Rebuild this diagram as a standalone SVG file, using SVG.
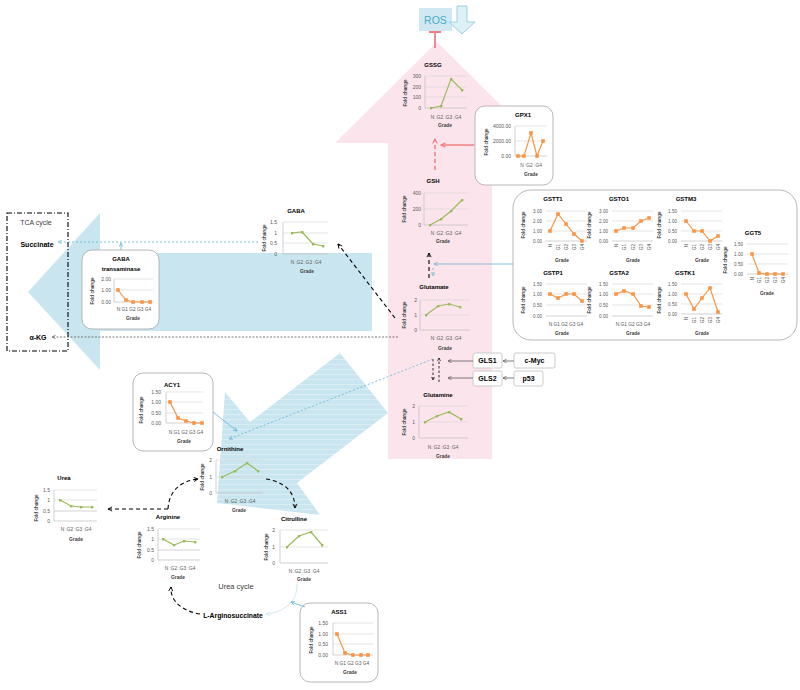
<svg xmlns="http://www.w3.org/2000/svg" width="800" height="690" viewBox="0 0 800 690">
<style>
text{font-family:"Liberation Sans",Arial,sans-serif}
.t{font-size:6px;font-weight:bold;fill:#000;text-anchor:middle}
.y{font-size:5px;fill:#595959;text-anchor:end}
.ys{font-size:4.6px;fill:#595959;text-anchor:end}
.x{font-size:4.8px;fill:#595959;text-anchor:middle}
.xr{font-size:4.6px;fill:#595959;text-anchor:end}
.fc{font-size:4.6px;font-weight:bold;fill:#404040;text-anchor:middle}
.gr{font-size:4.8px;font-weight:bold;fill:#404040;text-anchor:middle}
.grid{stroke:#d9d9d9;stroke-width:0.7}
.axis{stroke:#bfbfbf;stroke-width:0.7}
.g{stroke:#9bbb59;stroke-width:1.2;fill:none;marker-start:url(#dot);marker-mid:url(#dot);marker-end:url(#dot)}
.o{stroke:#f79646;stroke-width:1.2;fill:none;marker-start:url(#sq);marker-mid:url(#sq);marker-end:url(#sq)}
.box{fill:#fff;stroke:#a6a6a6;stroke-width:0.8}
.sbox{fill:#fff;stroke:#bfbfbf;stroke-width:0.8}
.lab{font-size:7px;font-weight:bold;fill:#000;text-anchor:middle}
.bk{stroke:#000;stroke-width:1.1;fill:none;stroke-dasharray:4 3;marker-end:url(#ak)}
.bl{stroke:#5fb4d4;stroke-width:0.8;fill:none;stroke-dasharray:2 2;marker-end:url(#ab)}
.bls{stroke:#5fb4d4;stroke-width:0.8;fill:none;marker-end:url(#ab)}
.gy{stroke:#595959;stroke-width:0.8;fill:none;marker-end:url(#ag)}
</style>
<defs>
<marker id="ak" viewBox="0 0 8 8" refX="7" refY="4" markerWidth="5" markerHeight="5" orient="auto"><path d="M1,1 L7,4 L1,7" fill="none" stroke="#000" stroke-width="1.3"/></marker>
<marker id="ab" viewBox="0 0 8 8" refX="7" refY="4" markerWidth="6" markerHeight="6" orient="auto"><path d="M1,1 L7,4 L1,7" fill="none" stroke="#5fb4d4" stroke-width="1.2"/></marker>
<marker id="ag" viewBox="0 0 8 8" refX="7" refY="4" markerWidth="6" markerHeight="6" orient="auto"><path d="M1,1 L7,4 L1,7" fill="none" stroke="#595959" stroke-width="1.2"/></marker>
<marker id="ar" viewBox="0 0 8 8" refX="7" refY="4" markerWidth="4" markerHeight="4" orient="auto"><path d="M1,1 L7,4 L1,7" fill="none" stroke="#f08080" stroke-width="1.5"/></marker>
<marker id="alb" viewBox="0 0 8 8" refX="7" refY="4" markerWidth="6" markerHeight="6" orient="auto"><path d="M1,1 L7,4 L1,7" fill="none" stroke="#c6e2ec" stroke-width="1.2"/></marker>
<marker id="dot" viewBox="0 0 4 4" refX="2" refY="2" markerWidth="3" markerHeight="3" markerUnits="userSpaceOnUse"><circle cx="2" cy="2" r="2" fill="#9bbb59"/></marker>
<marker id="sq" viewBox="0 0 4 4" refX="2" refY="2" markerWidth="3.6" markerHeight="3.6" markerUnits="userSpaceOnUse"><rect width="4" height="4" fill="#f79646"/></marker>
<pattern id="hatch" width="8" height="5" patternUnits="userSpaceOnUse"><rect width="8" height="5" fill="#c9e5ef"/><rect y="4" width="8" height="0.8" fill="#dfeff5"/></pattern>
</defs>
<rect width="800" height="690" fill="#fff"/>

<g id="backgrounds">
<path d="M437,42 L539,143 L492,143 L492,459 L388,459 L388,143 L335,143 Z" fill="#fce4ec"/>
<path d="M28,292 L100,213 L100,253 L372,253 L372,331 L100,331 L100,370 Z" fill="#c9e5ef"/>
<path d="M340,353 L388,413 L297,483 L320,515 L217,503 L225,392 L250,422 Z" fill="url(#hatch)"/>
</g>

<g id="ros">
<rect x="419" y="8" width="33" height="23" fill="#cfe8f1"/>
<text x="435.5" y="24" style="font-size:10.5px;fill:#4bacc6;text-anchor:middle">ROS</text>
<path d="M457,6 L467,6 L467,22 L475,22 L462,34 L449,22 L457,22 Z" fill="#dcf0f6" stroke="#9ccfe0" stroke-width="1"/>
</g>

<g id="tca">
<rect x="7" y="213" width="61" height="138" fill="none" stroke="#000" stroke-width="1.1" stroke-dasharray="5 2 1 2"/>
<text x="36" y="225" style="font-size:7px;fill:#404040;text-anchor:middle">TCA cycle</text>
<text x="37" y="247" style="font-size:7px;font-weight:bold;text-anchor:middle">Succinate</text>
<text x="38" y="340" style="font-size:7px;font-weight:bold;text-anchor:middle">α-KG</text>
</g>

<g id="gssg">
<text class="t" x="433" y="67">GSSG</text>
<line class="grid" x1="425" y1="76" x2="467" y2="76"/><line class="grid" x1="425" y1="87" x2="467" y2="87"/><line class="grid" x1="425" y1="97" x2="467" y2="97"/>
<line class="axis" x1="425" y1="108" x2="467" y2="108"/><line class="axis" x1="425" y1="76" x2="425" y2="108"/>
<text class="y" x="421" y="78">300</text><text class="y" x="421" y="89">200</text><text class="y" x="421" y="99">100</text><text class="y" x="421" y="110">0</text>
<polyline class="g" points="431,108 441,106 451,79 462,90"/>
<text class="x" x="446" y="119">N :G2 :G3 :G4</text>
<text class="gr" x="445" y="127">Grade</text>
<text class="fc" transform="translate(407,93) rotate(-90)">Fold change</text>
</g>

<g id="gpx1">
<rect class="box" x="475" y="106" width="78" height="79" rx="10"/>
<text class="t" x="523" y="117">GPX1</text>
<line class="grid" x1="515" y1="126" x2="547" y2="126"/><line class="grid" x1="515" y1="141" x2="547" y2="141"/>
<line class="axis" x1="515" y1="156" x2="547" y2="156"/><line class="axis" x1="515" y1="126" x2="515" y2="156"/>
<text class="y" x="511" y="128">4000.00</text><text class="y" x="511" y="143">2000.00</text><text class="y" x="511" y="158">0.00</text>
<polyline class="o" points="518,156 524,156 531,133 537,156 543,141"/>
<text class="x" x="531" y="167">N  :G2  :G4</text>
<text class="gr" x="531" y="176">Grade</text>
<text class="fc" transform="translate(488,142) rotate(-90)">Fold change</text>
</g>

<g id="gsh">
<text class="t" x="433" y="183">GSH</text>
<line class="grid" x1="424" y1="193" x2="468" y2="193"/><line class="grid" x1="424" y1="209" x2="468" y2="209"/>
<line class="axis" x1="424" y1="225" x2="468" y2="225"/><line class="axis" x1="424" y1="193" x2="424" y2="225"/>
<text class="y" x="421" y="195">400</text><text class="y" x="421" y="211">200</text><text class="y" x="421" y="227">0</text>
<polyline class="g" points="430,225 441,219 451,211 462,200"/>
<text class="x" x="446" y="235">N :G2 :G3 :G4</text>
<text class="gr" x="443" y="243">Grade</text>
<text class="fc" transform="translate(406,209) rotate(-90)">Fold change</text>
</g>

<g id="glutamate">
<text class="t" x="434" y="289">Glutamate</text>
<line class="grid" x1="420" y1="300" x2="470" y2="300"/><line class="grid" x1="420" y1="315" x2="470" y2="315"/>
<line class="axis" x1="420" y1="330" x2="470" y2="330"/><line class="axis" x1="420" y1="300" x2="420" y2="330"/>
<text class="y" x="417" y="302">2</text><text class="y" x="417" y="317">1</text><text class="y" x="417" y="332">0</text>
<polyline class="g" points="426,315 438,306 449,304 460,307"/>
<text class="x" x="446" y="340">N :G2 :G3 :G4</text>
<text class="gr" x="445" y="350">Grade</text>
<text class="fc" transform="translate(406,315) rotate(-90)">Fold change</text>
</g>

<g id="glutamine">
<text class="t" x="438" y="397">Glutamine</text>
<line class="grid" x1="419" y1="406" x2="468" y2="406"/><line class="grid" x1="419" y1="422" x2="468" y2="422"/>
<line class="axis" x1="419" y1="438" x2="468" y2="438"/><line class="axis" x1="419" y1="406" x2="419" y2="438"/>
<text class="y" x="415" y="408">2</text><text class="y" x="415" y="424">1</text><text class="y" x="415" y="440">0</text>
<polyline class="g" points="425,422 437,416 449,412 461,419"/>
<text class="x" x="443" y="449">N :G2 :G3 :G4</text>
<text class="gr" x="443" y="458">Grade</text>
<text class="fc" transform="translate(406,422) rotate(-90)">Fold change</text>
</g>

<g id="gls1"><rect class="sbox" x="473" y="353" width="29" height="15" rx="2"/><text class="lab" x="487.5" y="363">GLS1</text></g>
<g id="gls2"><rect class="sbox" x="473" y="371" width="29" height="15" rx="2"/><text class="lab" x="487.5" y="381">GLS2</text></g>
<g id="cmyc"><rect class="sbox" x="514" y="353" width="41" height="15" rx="2"/><text class="lab" x="534.5" y="363">c-Myc</text></g>
<g id="p53"><rect class="sbox" x="514" y="371" width="29" height="15" rx="2"/><text class="lab" x="528.5" y="381">p53</text></g>

<g id="gaba">
<text class="t" x="296" y="213">GABA</text>
<line class="grid" x1="283" y1="222" x2="328" y2="222"/><line class="grid" x1="283" y1="233" x2="328" y2="233"/><line class="grid" x1="283" y1="243" x2="328" y2="243"/>
<line class="axis" x1="283" y1="254" x2="328" y2="254"/><line class="axis" x1="283" y1="222" x2="283" y2="254"/>
<text class="y" x="277" y="224">1.5</text><text class="y" x="277" y="235">1</text><text class="y" x="277" y="245">0.5</text><text class="y" x="277" y="256">0</text>
<polyline class="g" points="292,233 302,232 313,244 323,246"/>
<text class="x" x="306" y="264">N :G2 :G3 :G4</text>
<text class="gr" x="307" y="273">Grade</text>
<text class="fc" transform="translate(266,238) rotate(-90)">Fold change</text>
</g>

<g id="gaba-transaminase">
<rect class="box" x="82" y="250" width="77" height="79" rx="10"/>
<text class="t" x="121" y="261">GABA</text>
<text class="t" x="121" y="270.5">transaminase</text>
<line class="grid" x1="114" y1="279" x2="153" y2="279"/><line class="grid" x1="114" y1="290" x2="153" y2="290"/>
<line class="axis" x1="114" y1="302" x2="153" y2="302"/><line class="axis" x1="114" y1="279" x2="114" y2="302"/>
<text class="y" x="111" y="281">2.00</text><text class="y" x="111" y="292">1.00</text><text class="y" x="111" y="304">0.00</text>
<polyline class="o" points="118,290 126,300 133,302 142,302 150,302"/>
<text class="x" x="134" y="311">N  G1 G2 G3 G4</text>
<text class="gr" x="133" y="320">Grade</text>
<text class="fc" transform="translate(94,291) rotate(-90)">Fold change</text>
</g>

<g id="acy1">
<rect class="box" x="133" y="373" width="80" height="78" rx="10"/>
<text class="t" x="172" y="387">ACY1</text>
<line class="grid" x1="166" y1="392" x2="203" y2="392"/><line class="grid" x1="166" y1="402" x2="203" y2="402"/><line class="grid" x1="166" y1="413" x2="203" y2="413"/>
<line class="axis" x1="166" y1="423" x2="203" y2="423"/><line class="axis" x1="166" y1="392" x2="166" y2="423"/>
<text class="y" x="161" y="394">1.50</text><text class="y" x="161" y="404">1.00</text><text class="y" x="161" y="415">0.50</text><text class="y" x="161" y="425">0.00</text>
<polyline class="o" points="170,402 178,418 186,421 194,423 202,423"/>
<text class="x" x="186" y="434">N  G1 G2 G3 G4</text>
<text class="gr" x="184" y="443">Grade</text>
<text class="fc" transform="translate(143,410) rotate(-90)">Fold change</text>
</g>

<g id="ornithine">
<text class="t" x="230" y="451">Ornithine</text>
<line class="grid" x1="216" y1="460" x2="263" y2="460"/><line class="grid" x1="216" y1="477" x2="263" y2="477"/>
<line class="axis" x1="216" y1="493" x2="263" y2="493"/><line class="axis" x1="216" y1="460" x2="216" y2="493"/>
<text class="y" x="212" y="462">2</text><text class="y" x="212" y="479">1</text><text class="y" x="212" y="495">0</text>
<polyline class="g" points="222,477 235,471 247,463 258,471"/>
<text class="x" x="240" y="503">N :G2 :G3 :G4</text>
<text class="gr" x="239" y="512">Grade</text>
<text class="fc" transform="translate(204,477) rotate(-90)">Fold change</text>
</g>

<g id="urea">
<text class="t" x="64" y="480">Urea</text>
<line class="grid" x1="54" y1="490" x2="97" y2="490"/><line class="grid" x1="54" y1="500" x2="97" y2="500"/><line class="axis" x1="54" y1="511" x2="97" y2="511"/>
<line class="axis" x1="54" y1="521" x2="97" y2="521"/><line class="axis" x1="54" y1="490" x2="54" y2="521"/>
<text class="y" x="50" y="492">1.5</text><text class="y" x="50" y="502">1</text><text class="y" x="50" y="513">0.5</text><text class="y" x="50" y="523">0</text>
<polyline class="g" points="60,500 71,506 81,507 92,507"/>
<text class="x" x="76" y="531">N :G2 :G3 :G4</text>
<text class="gr" x="76" y="541">Grade</text>
<text class="fc" transform="translate(38,508) rotate(-90)">Fold change</text>
</g>

<g id="arginine">
<text class="t" x="168" y="519">Arginine</text>
<line class="grid" x1="158" y1="529" x2="200" y2="529"/><line class="grid" x1="158" y1="539" x2="200" y2="539"/><line class="axis" x1="158" y1="550" x2="200" y2="550"/>
<line class="axis" x1="158" y1="560" x2="200" y2="560"/><line class="axis" x1="158" y1="529" x2="158" y2="560"/>
<text class="y" x="154" y="531">1.5</text><text class="y" x="154" y="541">1</text><text class="y" x="154" y="552">0.5</text><text class="y" x="154" y="562">0</text>
<polyline class="g" points="163,539 174,545 184,541 195,542"/>
<text class="x" x="180" y="570">N :G2 :G3 :G4</text>
<text class="gr" x="178" y="579">Grade</text>
<text class="fc" transform="translate(141,545) rotate(-90)">Fold change</text>
</g>

<g id="citrulline">
<text class="t" x="294" y="521">Citrulline</text>
<line class="grid" x1="280" y1="530" x2="328" y2="530"/><line class="grid" x1="280" y1="547" x2="328" y2="547"/>
<line class="axis" x1="280" y1="563" x2="328" y2="563"/><line class="axis" x1="280" y1="530" x2="280" y2="563"/>
<text class="y" x="275" y="532">2</text><text class="y" x="275" y="549">1</text><text class="y" x="275" y="565">0</text>
<polyline class="g" points="287,547 299,536 311,532 322,545"/>
<text class="x" x="304" y="573">N :G2 :G3 :G4</text>
<text class="gr" x="304" y="581">Grade</text>
<text class="fc" transform="translate(268,547) rotate(-90)">Fold change</text>
</g>

<g id="urea-cycle">
<text x="236" y="589" style="font-size:7.5px;fill:#404040;text-anchor:middle">Urea cycle</text>
<text x="233" y="618" style="font-size:6.8px;font-weight:bold;text-anchor:middle">L-Arginosuccinate</text>
</g>

<g id="ass1">
<rect class="box" x="300" y="603" width="78" height="79" rx="10"/>
<text class="t" x="339" y="614">ASS1</text>
<line class="grid" x1="333" y1="623" x2="373" y2="623"/><line class="grid" x1="333" y1="634" x2="373" y2="634"/><line class="grid" x1="333" y1="644" x2="373" y2="644"/>
<line class="axis" x1="333" y1="655" x2="373" y2="655"/><line class="axis" x1="333" y1="623" x2="333" y2="655"/>
<text class="y" x="328" y="625">1.50</text><text class="y" x="328" y="636">1.00</text><text class="y" x="328" y="646">0.50</text><text class="y" x="328" y="657">0.00</text>
<polyline class="o" points="337,634 345,653 353,655 361,655 368,655"/>
<text class="x" x="352" y="665">N  G1 G2 G3 G4</text>
<text class="gr" x="350" y="674">Grade</text>
<text class="fc" transform="translate(313,640) rotate(-90)">Fold change</text>
</g>

<g id="gst">
<rect class="box" x="513" y="190" width="284" height="150" rx="18"/>
<g id="gstt1">
<text class="t" x="553" y="201">GSTT1</text>
<line class="grid" x1="546" y1="211" x2="587" y2="211"/><line class="grid" x1="546" y1="221" x2="587" y2="221"/><line class="grid" x1="546" y1="231" x2="587" y2="231"/>
<line class="axis" x1="546" y1="241" x2="587" y2="241"/>
<text class="ys" x="542" y="213">3.00</text><text class="ys" x="542" y="223">2.00</text><text class="ys" x="542" y="233">1.00</text><text class="ys" x="542" y="243">0.00</text>
<polyline class="o" points="550,231 558,214 566,224 574,234 582,241"/>
<text class="xr" transform="translate(552,244) rotate(-90)">N</text><text class="xr" transform="translate(560,244) rotate(-90)">G1</text><text class="xr" transform="translate(568,244) rotate(-90)">G2</text><text class="xr" transform="translate(576,244) rotate(-90)">G3</text><text class="xr" transform="translate(584,244) rotate(-90)">G4</text>
<text class="gr" x="562" y="262">Grade</text>
<text class="fc" transform="translate(525,225) rotate(-90)">Fold change</text>
</g>
<g id="gsto1">
<text class="t" x="619" y="201">GSTO1</text>
<line class="grid" x1="612" y1="211" x2="653" y2="211"/><line class="grid" x1="612" y1="221" x2="653" y2="221"/><line class="grid" x1="612" y1="231" x2="653" y2="231"/>
<line class="axis" x1="612" y1="241" x2="653" y2="241"/>
<text class="ys" x="608" y="213">3.00</text><text class="ys" x="608" y="223">2.00</text><text class="ys" x="608" y="233">1.00</text><text class="ys" x="608" y="243">0.00</text>
<polyline class="o" points="616,231 624,228 633,228 641,221 649,218"/>
<text class="xr" transform="translate(618,244) rotate(-90)">N</text><text class="xr" transform="translate(626,244) rotate(-90)">G1</text><text class="xr" transform="translate(635,244) rotate(-90)">G2</text><text class="xr" transform="translate(643,244) rotate(-90)">G3</text><text class="xr" transform="translate(651,244) rotate(-90)">G4</text>
<text class="gr" x="633" y="262">Grade</text>
<text class="fc" transform="translate(591,225) rotate(-90)">Fold change</text>
</g>
<g id="gstm3">
<text class="t" x="686" y="201">GSTM3</text>
<line class="grid" x1="681" y1="211" x2="722" y2="211"/><line class="grid" x1="681" y1="221" x2="722" y2="221"/><line class="grid" x1="681" y1="231" x2="722" y2="231"/>
<line class="axis" x1="681" y1="241" x2="722" y2="241"/>
<text class="ys" x="677" y="213">1.50</text><text class="ys" x="677" y="223">1.00</text><text class="ys" x="677" y="233">0.50</text><text class="ys" x="677" y="243">0.00</text>
<polyline class="o" points="686,221 694,231 702,231 710,241 718,236"/>
<text class="xr" transform="translate(688,244) rotate(-90)">N</text><text class="xr" transform="translate(696,244) rotate(-90)">G1</text><text class="xr" transform="translate(704,244) rotate(-90)">G2</text><text class="xr" transform="translate(712,244) rotate(-90)">G3</text><text class="xr" transform="translate(720,244) rotate(-90)">G4</text>
<text class="gr" x="702" y="262">Grade</text>
<text class="fc" transform="translate(661,225) rotate(-90)">Fold change</text>
</g>
<g id="ggt5">
<text class="t" x="753" y="235">GGT5</text>
<line class="grid" x1="747" y1="244" x2="788" y2="244"/><line class="grid" x1="747" y1="254" x2="788" y2="254"/><line class="grid" x1="747" y1="264" x2="788" y2="264"/>
<line class="axis" x1="747" y1="274" x2="788" y2="274"/>
<text class="ys" x="743" y="246">1.50</text><text class="ys" x="743" y="256">1.00</text><text class="ys" x="743" y="266">0.50</text><text class="ys" x="743" y="276">0.00</text>
<polyline class="o" points="752,254 759,273 767,274 775,274 783,274"/>
<text class="xr" transform="translate(754,277) rotate(-90)">N</text><text class="xr" transform="translate(761,277) rotate(-90)">G1</text><text class="xr" transform="translate(769,277) rotate(-90)">G2</text><text class="xr" transform="translate(777,277) rotate(-90)">G3</text><text class="xr" transform="translate(785,277) rotate(-90)">G4</text>
<text class="gr" x="767" y="295">Grade</text>
<text class="fc" transform="translate(727,260) rotate(-90)">Fold change</text>
</g>
<g id="gstp1">
<text class="t" x="553" y="275">GSTP1</text>
<line class="grid" x1="546" y1="284" x2="587" y2="284"/><line class="grid" x1="546" y1="294" x2="587" y2="294"/><line class="grid" x1="546" y1="305" x2="587" y2="305"/>
<line class="axis" x1="546" y1="316" x2="587" y2="316"/>
<text class="ys" x="542" y="286">1.50</text><text class="ys" x="542" y="296">1.00</text><text class="ys" x="542" y="307">0.50</text><text class="ys" x="542" y="318">0.00</text>
<polyline class="o" points="550,294 558,298 566,294 574,294 582,301"/>
<text class="x" x="566" y="326">N  G1 G2 G3 G4</text>
<text class="gr" x="562" y="335">Grade</text>
<text class="fc" transform="translate(525,300) rotate(-90)">Fold change</text>
</g>
<g id="gsta2">
<text class="t" x="619" y="275">GSTA2</text>
<line class="grid" x1="612" y1="284" x2="653" y2="284"/><line class="grid" x1="612" y1="294" x2="653" y2="294"/><line class="grid" x1="612" y1="305" x2="653" y2="305"/>
<line class="axis" x1="612" y1="316" x2="653" y2="316"/>
<text class="ys" x="608" y="286">1.50</text><text class="ys" x="608" y="296">1.00</text><text class="ys" x="608" y="307">0.50</text><text class="ys" x="608" y="318">0.00</text>
<polyline class="o" points="616,294 624,291 633,294 641,306 649,307"/>
<text class="x" x="633" y="326">N  G1 G2 G3 G4</text>
<text class="gr" x="633" y="335">Grade</text>
<text class="fc" transform="translate(591,300) rotate(-90)">Fold change</text>
</g>
<g id="gstk1">
<text class="t" x="685" y="275">GSTK1</text>
<line class="grid" x1="681" y1="284" x2="722" y2="284"/><line class="grid" x1="681" y1="294" x2="722" y2="294"/><line class="grid" x1="681" y1="304" x2="722" y2="304"/>
<line class="axis" x1="681" y1="314" x2="722" y2="314"/>
<text class="ys" x="677" y="286">1.50</text><text class="ys" x="677" y="296">1.00</text><text class="ys" x="677" y="306">0.50</text><text class="ys" x="677" y="316">0.00</text>
<polyline class="o" points="686,294 694,309 702,298 710,288 718,312"/>
<text class="xr" transform="translate(688,317) rotate(-90)">N</text><text class="xr" transform="translate(696,317) rotate(-90)">G1</text><text class="xr" transform="translate(704,317) rotate(-90)">G2</text><text class="xr" transform="translate(712,317) rotate(-90)">G3</text><text class="xr" transform="translate(720,317) rotate(-90)">G4</text>
<text class="gr" x="702" y="335">Grade</text>
<text class="fc" transform="translate(661,300) rotate(-90)">Fold change</text>
</g>
</g>

<g id="connectors">
<path d="M435,48 L435,32 M429,32 L441,32" stroke="#f08080" stroke-width="1.8" fill="none"/>
<path d="M435,170 L435,139" stroke="#f08080" stroke-width="1.5" stroke-dasharray="4 3" fill="none" marker-end="url(#ar)"/>
<path d="M474,145 L441,145" stroke="#f08080" stroke-width="1.5" fill="none" marker-end="url(#ar)"/>
<path class="bk" d="M429,278 L429,253"/>
<path d="M513,264 L434,264" class="bls"/>
<path d="M433,268 L433,276" class="bl"/>
<path class="bk" d="M395,318 L338,244"/>
<path class="bl" d="M258,242 L58,242"/>
<path class="bls" d="M121,250 L121,243"/>
<path d="M398,337 L52,337" stroke="#595959" stroke-width="0.8" stroke-dasharray="2 1.5" fill="none" marker-end="url(#ag)"/>
<path d="M433,359 L433,380" stroke="#000" stroke-width="0.8" stroke-dasharray="2.5 2" fill="none" marker-end="url(#ak)"/>
<path d="M439,382 L439,358" stroke="#000" stroke-width="0.8" stroke-dasharray="2.5 2" fill="none" marker-end="url(#ak)"/>
<path class="gy" d="M473,361 L448,361"/>
<path class="gy" d="M473,378 L448,378"/>
<path class="gy" d="M514,361 L503,361"/>
<path class="gy" d="M514,378 L503,378"/>
<path class="bl" d="M433,359 L229,439"/>
<path class="bls" d="M213,412 L237,431"/>
<path class="bk" d="M168,509 L108,509"/>
<path class="bk" d="M168,509 C169,491 180,481 198,479"/>
<path class="bk" d="M266,479 C285,482 295,492 295,508"/>
<path d="M297,583 C298,600 286,612 266,614" stroke="#c6e2ec" stroke-width="0.8" fill="none" marker-end="url(#alb)"/>
<path class="bk" d="M200,614 C182,611 170,601 171,587"/>
<path class="bls" d="M305,607 L291,602"/>
</g>
</svg>
